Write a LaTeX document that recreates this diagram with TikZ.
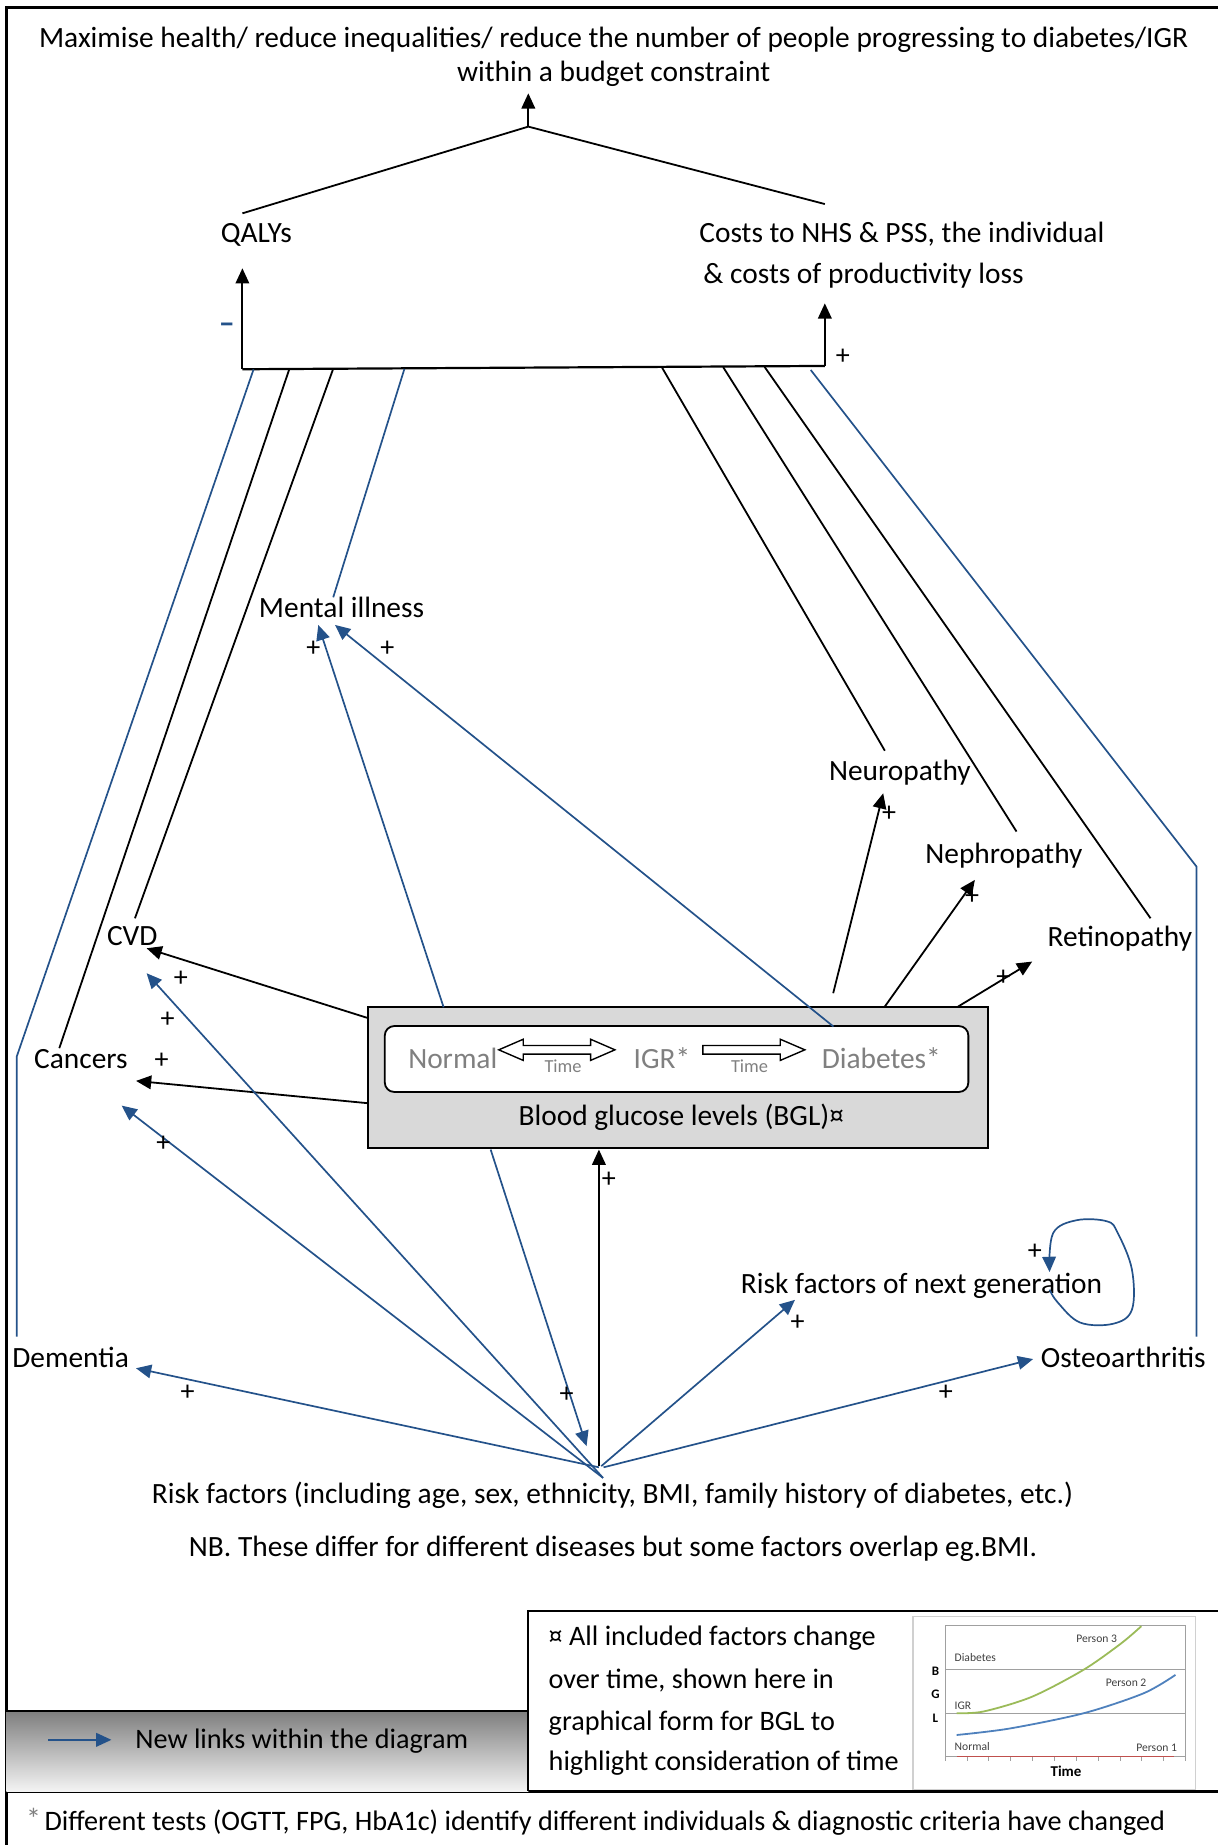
\documentclass[tikz,border=0pt]{standalone}
\usepackage{fontspec}
\setmainfont{Carlito}
\usetikzlibrary{arrows.meta}
\definecolor{myblue}{HTML}{24528A}
\definecolor{boxgray}{HTML}{D9D9D9}
\definecolor{txtgray}{HTML}{808080}
\definecolor{chgreen}{HTML}{9BBB59}
\definecolor{chblue}{HTML}{4F81BD}
\definecolor{chred}{HTML}{C0504D}
\definecolor{chgrid}{HTML}{A0A0A0}
\definecolor{chframe}{HTML}{D0D0D0}
\definecolor{chtext}{HTML}{404040}
\definecolor{legtop}{HTML}{7F7F7F}
\definecolor{legbot}{HTML}{F4F4F4}
\begin{document}
\begin{tikzpicture}[x=0.5884pt,y=-0.5884pt,
  txt/.style={inner sep=0pt,anchor=base,yshift=-4.4pt,font=\fontsize{14.7pt}{17.5pt}\selectfont},
  txtw/.style={txt,anchor=base west},
  smtxt/.style={inner sep=0pt,anchor=base west,yshift=-4.3pt,font=\fontsize{14.1pt}{17pt}\selectfont},
  pl/.style={inner sep=0pt,font=\fontsize{14pt}{15pt}\selectfont},
  bk/.style={draw=black,line width=0.9pt},
  bl/.style={draw=myblue,line width=0.85pt},
  tip/.style={-{Triangle[length=7.6pt,width=6.8pt]}},
  chlab/.style={inner sep=0pt,text=chtext,font=\fontsize{5.8pt}{7pt}\selectfont},
  chbold/.style={inner sep=0pt,text=black,font=\fontsize{6.5pt}{7pt}\selectfont\bfseries},
  fatarrow/.style={draw=black,line width=0.7pt,fill=white},
]
\useasboundingbox (0,0) rectangle (1035,1568);

% ---------- frame ----------
\draw[line width=1.2pt] (1035,6.2) -- (5.5,6.2) -- (5.5,1568);
\draw[line width=1.2pt] (5.5,1522.5) -- (1035,1522.5);

% ---------- goal ----------
\node[txt] (goal1) at (521.5,32.6) {Maximise health/ reduce inequalities/ reduce the number of people progressing to diabetes/IGR};
\node[txt] (goal2) at (521.5,61.8) {within a budget constraint};
\coordinate (apex) at (449,107.6);
\coordinate (goalTip) at (449,79.3);
\coordinate (qL) at (206,181.3);
\coordinate (cR) at (701,173.4);
\draw[bk,tip] (apex) -- (goalTip);
\draw[bk] (qL) -- (apex) -- (cR);

\node[txt] (qaly) at (217.9,198.3) {QALYs};
\node[txtw] (cost1) at (594,198.3) {Costs to NHS \& PSS, the individual};
\node[txtw] (cost2) at (597.5,233.7) {\& costs of productivity loss};

% ---------- bar ----------
\coordinate (barL) at (206,313.8);
\coordinate (barR) at (701,311);
\coordinate (qTip) at (206,228);
\coordinate (cTip) at (701,257.8);
\draw[bk,line width=1.1pt] (barL) -- (barR);
\draw[bk,tip] (barL) -- (qTip);
\draw[bk,tip] (barR) -- (cTip);
\node[pl,text=myblue,font=\fontsize{16pt}{17pt}\selectfont\bfseries] (minus) at (192.8,279) {\textendash};
\node[pl] (pcost) at (716.3,303) {+};

% ---------- lines from bar ----------
\coordinate (b1) at (215.5,313.9);
\coordinate (b2) at (245.8,313.9);
\coordinate (b3) at (283,313.9);
\coordinate (b4) at (343.7,313.5);
\coordinate (b5) at (562.6,312.3);
\coordinate (b6) at (614.6,312);
\coordinate (b7) at (649.8,311.8);
\coordinate (b8) at (689,314.4);
\coordinate (demBend) at (14.2,898);
\coordinate (demTop) at (14.2,1136);
\coordinate (canTop) at (50.4,890.8);
\coordinate (cvdTop) at (114.7,780.4);
\coordinate (menTop) at (283.2,507.6);
\coordinate (neuTop) at (752,638);
\coordinate (nepTop) at (863.9,706.7);
\coordinate (retTop) at (977.8,780.4);
\coordinate (ostBend) at (1016.9,736.5);
\coordinate (ostTop) at (1016.9,1136);
\draw[bl] (b1) -- (demBend) -- (demTop);
\draw[bk] (b2) -- (canTop);
\draw[bk] (b3) -- (cvdTop);
\draw[bl] (b4) -- (menTop);
\draw[bk] (b5) -- (neuTop);
\draw[bk] (b6) -- (nepTop);
\draw[bk] (b7) -- (retTop);
\draw[bl] (b8) -- (ostBend) -- (ostTop);

% ---------- outcome nodes ----------
\node[txt] (mental) at (290.3,517) {Mental illness};
\node[txt] (neuro) at (764.8,655.7) {Neuropathy};
\node[txt] (nephro) at (853.2,726.5) {Nephropathy};
\node[txt] (retino) at (951.7,796.5) {Retinopathy};
\node[txt] (cvd) at (112.4,796) {CVD};
\node[txt] (cancers) at (68.8,900.7) {Cancers};
\node[txt] (dementia) at (60,1154.3) {Dementia};
\node[txt] (osteo) at (954.6,1154.3) {Osteoarthritis};
\node[txt] (nextgen) at (783.2,1092) {Risk factors of next generation};
\node[txt] (risk) at (520.5,1270) {Risk factors (including age, sex, ethnicity, BMI, family history of diabetes, etc.)};
\node[txt] (nb) at (521,1315) {NB. These differ for different diseases but some factors overlap eg.BMI.};

% ---------- BGL box ----------
\node[draw=black,line width=1pt,fill=boxgray,inner sep=0pt,minimum width=310.1pt,minimum height=70.6pt] (bgl) at (576.5,916) {};
\node[draw=black,line width=0.9pt,fill=white,rounded corners=4.7pt,inner sep=0pt,minimum width=291.8pt,minimum height=32.95pt] (stages) at (575,900) {};
\node[txt,text=txtgray] (normal) at (384.8,900.8) {Normal};
\node[txt,text=txtgray] (igr) at (562.6,900.8) {IGR*};
\node[txt,text=txtgray] (diab) at (749,900.8) {Diabetes*};
\node[inner sep=0pt,text=txtgray,font=\fontsize{9.2pt}{10pt}\selectfont] (time1) at (478.5,906.4) {Time};
\node[inner sep=0pt,text=txtgray,font=\fontsize{9.2pt}{10pt}\selectfont] (time2) at (637,906.4) {Time};
\node[txt] (bgltxt) at (579,949) {Blood glucose levels (BGL)¤};
\draw[fatarrow] (423.9,892.2) -- (444.7,883.2) -- (444.7,888.5) -- (501.9,888.5) -- (501.9,883.2) -- (522.6,892.2) -- (501.9,901.2) -- (501.9,895.9) -- (444.7,895.9) -- (444.7,901.2) -- cycle;
\draw[fatarrow] (597.3,888.5) -- (663.1,888.5) -- (663.1,883.2) -- (684,892.2) -- (663.1,901.2) -- (663.1,895.9) -- (597.3,895.9) -- cycle;

% ---------- arrows from BGL ----------
\coordinate (bCvd) at (313,865.3);   \coordinate (tCvd) at (124.6,805.9);
\coordinate (bCan) at (313,937.6);   \coordinate (tCan) at (115.6,918.6);
\coordinate (bNeu) at (708.1,844.1); \coordinate (tNeu) at (750.6,674.2);
\coordinate (bNep) at (752,855.4);   \coordinate (tNep) at (828.5,747.8);
\coordinate (bRet) at (814.3,855.4); \coordinate (tRet) at (877.2,817.2);
\coordinate (bMen1) at (377,856);    \coordinate (tMen1) at (270.5,531.1);
\coordinate (bMen2) at (708.3,872.4);\coordinate (tMen2) at (284.7,531.1);
\coordinate (bDown) at (417,977);    \coordinate (tDown) at (498.5,1229);
\coordinate (rUp) at (509,1246);     \coordinate (tUp) at (509,977);
\draw[bk,tip] (bCvd) -- (tCvd);
\draw[bk,tip] (bCan) -- (tCan);
\draw[bk,tip] (bNeu) -- (tNeu);
\draw[bk,tip] (bNep) -- (tNep);
\draw[bk,tip] (bRet) -- (tRet);
\draw[bl,tip,fill=myblue] (bMen1) -- (tMen1);
\draw[bl,tip,fill=myblue] (bMen2) -- (tMen2);
\draw[bl,tip,fill=myblue] (bDown) -- (tDown);
\draw[bk,tip] (rUp) -- (tUp);

% ---------- arrows from risk factors ----------
\coordinate (rDem) at (509,1247);    \coordinate (tDem) at (115.6,1162.8);
\coordinate (rCC) at (512.5,1256);   \coordinate (tCan2) at (103.4,939.6);
\coordinate (tCvd2) at (124.6,827.1);
\coordinate (rNext) at (511,1246);   \coordinate (tNext) at (675.6,1104.7);
\coordinate (rOst) at (513,1247);    \coordinate (tOst) at (878,1155);
\draw[bl,tip,fill=myblue] (rDem) -- (tDem);
\draw[bl,tip,fill=myblue] (rCC) -- (tCan2);
\draw[bl,tip,fill=myblue] (rCC) -- (tCvd2);
\draw[bl,tip,fill=myblue] (rNext) -- (tNext);
\draw[bl,tip,fill=myblue] (rOst) -- (tOst);

% self loop on next generation
\draw[bl,tip] plot[smooth,tension=0.6] coordinates {(892,1096) (899,1107) (918,1124) (946,1125) (962,1113) (962,1079) (950,1048) (941,1038) (915,1037) (895,1048) (892,1081)};

% ---------- plus signs ----------
\foreach \px/\py in {153.8/832, 142.5/866.8, 137.4/901.3, 138.8/972.1, 159.5/1184, 266.3/551.8, 329.1/551.8, 755.7/691.2, 826.2/762, 852.6/831.3, 517.5/1002.7, 481.5/1185.4, 677.8/1124.5, 803.9/1184, 879.5/1063.6}
  \node[pl] at (\px,\py) {+};

% ---------- legend ----------
\shade[top color=legtop,bottom color=legbot] (5.5,1454.5) rectangle (449,1522.5);
\draw[line width=1pt] (5.5,1454.5) -- (449,1454.5);
\coordinate (legA) at (41,1478.6);
\coordinate (legB) at (94.7,1478.6);
\draw[bl,tip] (legA) -- (legB);
\node[smtxt] (legtxt) at (114.7,1478.6) {New links within the diagram};

\draw[line width=1pt] (1035,1368.7) -- (449,1368.7) -- (449,1522.5);
\node[smtxt] (n1) at (466,1390.8) {¤ All included factors change};
\node[smtxt] (n2) at (466,1427.6) {over time, shown here in};
\node[smtxt] (n3) at (466,1463) {graphical form for BGL to};
\node[smtxt] (n4) at (466,1497) {highlight consideration of time};

% ---------- chart ----------
\draw[draw=chframe,line width=0.7pt] (776,1373.8) rectangle (1016,1521);
\draw[draw=chgrid,line width=0.45pt] (803.2,1381.7) rectangle (1007.5,1492.7);
\draw[draw=chgrid,line width=0.45pt] (803.2,1419) -- (1007.5,1419);
\draw[draw=chgrid,line width=0.45pt] (803.2,1456) -- (1007.5,1456);
\foreach \i in {0,...,11}
  \draw[draw=chgrid,line width=0.4pt] ({803.2+\i*18.57},1492.7) -- ++(0,3.5);
\draw[draw=chred,line width=0.9pt] (813,1492.7) -- (998,1492.7);
\draw[draw=chgreen,line width=0.9pt] plot[smooth] coordinates {(813,1456) (836,1454.5) (877,1442) (921,1419) (953,1396.5) (970,1382)};
\draw[draw=chblue,line width=0.9pt] plot[smooth] coordinates {(813,1474.5) (858,1469) (921,1456) (972,1439) (999,1423.4)};
\node[chlab,anchor=west] (cDia) at (811,1409) {Diabetes};
\node[chlab,anchor=west] (cIgr) at (811,1449.6) {IGR};
\node[chlab,anchor=west] (cNor) at (811,1484) {Normal};
\node[chlab] (cP3) at (932,1393) {Person 3};
\node[chlab] (cP2) at (957,1430) {Person 2};
\node[chlab] (cP1) at (983,1485.6) {Person 1};
\node[chbold] (cB) at (795,1420) {B};
\node[chbold] (cG) at (795,1440) {G};
\node[chbold] (cL) at (795,1460) {L};
\node[inner sep=0pt,font=\fontsize{7.5pt}{8pt}\selectfont\bfseries] (cTime) at (906,1505.5) {Time};

% ---------- footnote ----------
\node[inner sep=0pt,text=txtgray,font=\fontsize{15pt}{16pt}\selectfont] (ast) at (28.5,1546) {*};
\node[smtxt] (foot) at (37.6,1548) {Different tests (OGTT, FPG, HbA1c) identify different individuals \& diagnostic criteria have changed};
\end{tikzpicture}
\end{document}
